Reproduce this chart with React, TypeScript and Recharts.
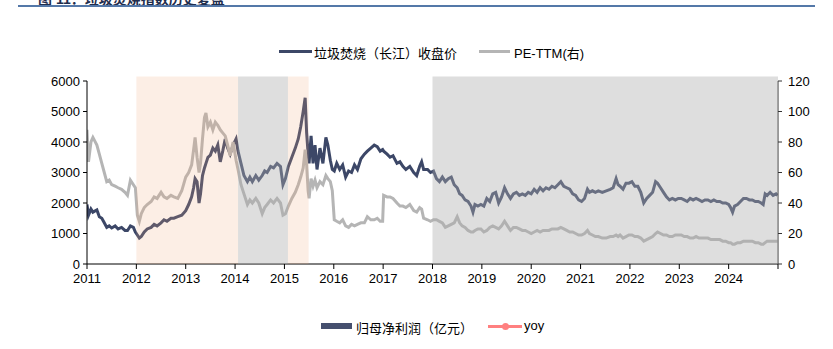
import React from 'react';
import { LineChart, Line, XAxis, YAxis, ReferenceArea } from 'recharts';

// decimal year of each sample
const dates = [
  2011.0, 2011.03, 2011.08, 2011.12, 2011.2, 2011.25, 2011.3, 2011.35, 2011.4, 2011.45,
  2011.5, 2011.57, 2011.63, 2011.7, 2011.77, 2011.82, 2011.88, 2011.94, 2011.98, 2012.02,
  2012.06, 2012.1, 2012.16, 2012.22, 2012.3, 2012.36, 2012.42, 2012.5, 2012.56, 2012.62,
  2012.7, 2012.76, 2012.84, 2012.92, 2013.0, 2013.06, 2013.12, 2013.16, 2013.19, 2013.23,
  2013.27, 2013.3, 2013.34, 2013.38, 2013.41, 2013.45, 2013.5, 2013.55, 2013.6, 2013.65,
  2013.7, 2013.75, 2013.8, 2013.85, 2013.9, 2013.96, 2014.02, 2014.06, 2014.12, 2014.18,
  2014.25, 2014.3, 2014.35, 2014.42, 2014.48, 2014.55, 2014.6, 2014.65, 2014.72, 2014.78,
  2014.85, 2014.92, 2014.97, 2015.02, 2015.08, 2015.15, 2015.22, 2015.28, 2015.33, 2015.38,
  2015.42, 2015.45, 2015.48, 2015.5, 2015.54, 2015.58, 2015.62, 2015.66, 2015.72, 2015.78,
  2015.84, 2015.88, 2015.93, 2015.97, 2016.01, 2016.06, 2016.12, 2016.18, 2016.24, 2016.3,
  2016.36, 2016.42, 2016.48, 2016.55, 2016.62, 2016.68, 2016.75, 2016.82, 2016.88, 2016.94,
  2016.99, 2017.01, 2017.08, 2017.14, 2017.2, 2017.28, 2017.34, 2017.4, 2017.46, 2017.54,
  2017.62, 2017.68, 2017.74, 2017.78, 2017.82, 2017.9, 2017.96, 2018.02, 2018.08, 2018.14,
  2018.2, 2018.26, 2018.32, 2018.38, 2018.44, 2018.5, 2018.55, 2018.6, 2018.66, 2018.72,
  2018.78, 2018.82, 2018.86, 2018.92, 2018.98, 2019.04, 2019.1, 2019.16, 2019.22, 2019.28,
  2019.34, 2019.4, 2019.46, 2019.52, 2019.58, 2019.64, 2019.7, 2019.76, 2019.82, 2019.88,
  2019.94, 2020.0, 2020.06, 2020.12, 2020.18, 2020.24, 2020.3, 2020.36, 2020.42, 2020.48,
  2020.54, 2020.6, 2020.66, 2020.72, 2020.78, 2020.84, 2020.9, 2020.96, 2021.02, 2021.08,
  2021.14, 2021.18, 2021.24, 2021.3, 2021.36, 2021.44, 2021.52, 2021.6, 2021.66, 2021.72,
  2021.76, 2021.8, 2021.86, 2021.92, 2021.98, 2022.04, 2022.1, 2022.16, 2022.22, 2022.28,
  2022.34, 2022.4, 2022.46, 2022.52, 2022.56, 2022.62, 2022.68, 2022.74, 2022.8, 2022.86,
  2022.92, 2022.98, 2023.04, 2023.1, 2023.16, 2023.22, 2023.28, 2023.34, 2023.4, 2023.46,
  2023.52, 2023.58, 2023.64, 2023.7, 2023.76, 2023.82, 2023.88, 2023.94, 2024.0, 2024.04,
  2024.08, 2024.12, 2024.18, 2024.24, 2024.3, 2024.36, 2024.42, 2024.48, 2024.54, 2024.6,
  2024.66, 2024.7, 2024.74, 2024.78, 2024.84, 2024.9, 2024.96, 2024.99,
];

// 垃圾焚烧（长江）收盘价
const closePrice = [
  1950, 1600, 1800, 1700, 1770, 1550, 1500, 1350, 1200, 1250,
  1180, 1250, 1150, 1200, 1100, 1100, 1250, 1200, 1050, 950,
  850, 900, 1050, 1150, 1200, 1300, 1250, 1350, 1450, 1400,
  1500, 1500, 1550, 1600, 1750, 1950, 2200, 2500, 2800, 2700,
  2000, 2300, 2900, 3150, 3300, 3500, 3570, 3800, 3700, 3900,
  3350, 3700, 4100, 3800, 3600, 3900, 4100, 3700, 3300, 2900,
  2700, 2850, 2700, 2900, 2750, 2900, 3050, 3000, 3200, 3150,
  3300, 3200, 2600, 2800, 3200, 3500, 3800, 4100, 4500, 5000,
  5450, 4300, 3600, 3300, 4200, 3300, 3900, 3100, 3800, 3300,
  4150, 3900, 3400, 3100, 3050, 3300, 3100, 3250, 2850, 3050,
  3000, 3250, 3100, 3450, 3600, 3700, 3800, 3900, 3850, 3700,
  3750, 3700, 3600, 3500, 3550, 3300, 3350, 3200, 3100, 3200,
  3000, 2900, 3200, 3350, 3100, 3100, 3000, 3050, 2800, 2700,
  2850, 2700, 2800, 2850, 2600, 2500, 2300, 2250, 2100, 2050,
  1900, 1700, 1950, 1900, 1950, 1900, 2150, 2050, 2300, 2350,
  2000, 2200, 2500, 2300, 2150, 2300, 2350, 2250, 2300, 2250,
  2350, 2300, 2450, 2350, 2500, 2400, 2500, 2450, 2550, 2500,
  2600, 2700, 2550, 2500, 2450, 2300, 2250, 2100, 2050, 2150,
  2450, 2350, 2400, 2350, 2400, 2350, 2400, 2450, 2500, 2800,
  2600, 2550, 2450, 2650, 2650, 2700, 2550, 2550, 2350, 2000,
  2150, 2250, 2350, 2700, 2650, 2500, 2350, 2200, 2100, 2150,
  2100, 2150, 2150, 2100, 2050, 2150, 2100, 2150, 2100, 2050,
  2100, 2100, 2050, 2100, 2050, 2050, 2000, 2000, 1950, 1850,
  1700, 1900, 1950, 2050, 2150, 2150, 2100, 2100, 2050, 2050,
  2000, 1950, 2300, 2250, 2350, 2250, 2300, 2250,
];

// PE-TTM(右)
const peTtm = [
  88, 67, 80, 83, 78, 72, 66, 60, 54, 55,
  52, 51, 50, 49, 47, 45, 55, 52, 50, 32,
  28, 33, 37, 39, 41, 44, 43, 47, 44, 43,
  45, 44, 43, 48, 57, 60, 65, 75, 83, 70,
  60, 66, 82, 96, 99, 90, 93, 88, 93, 91,
  88, 86, 84, 78, 71, 80, 68, 62, 52, 46,
  39, 42, 40, 43, 40, 33, 37, 39, 42, 40,
  43, 40, 32, 33, 38, 43, 47, 52, 57, 63,
  75, 65, 48, 43, 56, 51, 55, 50, 54, 52,
  58, 56, 54, 48, 29, 28, 27, 29, 25, 24,
  26, 25, 26, 27, 27, 31, 29, 29, 30, 28,
  28, 45, 44, 44, 43, 40, 38, 38, 37, 39,
  35, 34, 37, 36, 30, 29, 28, 29, 29, 28,
  27, 24, 25, 26, 27, 31, 27, 25, 24, 22,
  21, 21, 22, 23, 23, 21, 22, 24, 25, 24,
  23, 25, 28, 25, 22, 24, 24, 23, 22, 22,
  21, 20, 21, 22, 21, 22, 22, 22, 23, 23,
  23, 24, 23, 22, 21, 21, 20, 19, 19, 20,
  22, 20, 19, 18, 18, 17, 17, 18, 18, 19,
  18, 19, 17, 18, 19, 19, 18, 18, 17, 15,
  16, 17, 18, 20, 21, 20, 19, 19, 18, 18,
  19, 19, 19, 18, 18, 17, 17, 18, 17, 17,
  17, 17, 16, 16, 16, 16, 15, 15, 14, 14,
  13, 13, 14, 14, 15, 15, 15, 15, 14, 14,
  13, 13, 14, 15, 15, 15, 15, 15,
];

const yearTicks = [2011, 2012, 2013, 2014, 2015, 2016, 2017, 2018, 2019, 2020, 2021, 2022, 2023, 2024, 2025];
const priceTicks = [0, 1000, 2000, 3000, 4000, 5000, 6000];
const peTicks = [0, 20, 40, 60, 80, 100, 120];

// shaded phases: rally (peach) and consolidation (gray)
const phaseStart = [2012.0, 2014.06, 2015.07, 2018.0];
const phaseEnd = [2014.06, 2015.07, 2015.49, 2025.0];
const phaseKind = ['up', 'flat', 'up', 'flat'];

const data = dates.map((t, i) => ({ t, price: closePrice[i], pe: peTtm[i] }));

const FONT = "'Liberation Sans', Arial, 'Noto Sans CJK SC', sans-serif";
const NAVY = '#3c4767';
const GRAY = '#b5b5b5';
const W = 833;
const H = 300;

export default function App() {
  const tickStyle = { fill: '#000', fontSize: 13, fontFamily: FONT };
  return (
    <div
      style={{
        position: 'absolute',
        left: 0,
        top: 0,
        width: 833,
        height: 349,
        background: '#fff',
        overflow: 'hidden',
        fontFamily: FONT,
      }}
    >
      <div
        style={{
          position: 'absolute',
          left: 38,
          top: -12,
          fontSize: 14,
          fontWeight: 'bold',
          color: '#1f2d4d',
          whiteSpace: 'nowrap',
        }}
      >
        图 11：垃圾焚烧指数历史复盘
      </div>
      <div style={{ position: 'absolute', left: 18, top: 5, width: 797, height: 2, background: '#5478a8' }} />

      {/* top legend */}
      <div style={{ position: 'absolute', left: 279, top: 43, height: 16, fontSize: 13, color: '#000', whiteSpace: 'nowrap' }}>
        <span style={{ position: 'absolute', left: 0, top: 7, width: 33, height: 3, background: NAVY }} />
        <span style={{ position: 'absolute', left: 35, top: 0 }}>垃圾焚烧（长江）收盘价</span>
        <span style={{ position: 'absolute', left: 200, top: 7, width: 31, height: 3, background: GRAY }} />
        <span style={{ position: 'absolute', left: 235, top: 0 }}>PE-TTM(右)</span>
      </div>

      <div style={{ position: 'absolute', left: 0, top: 0 }}>
        <LineChart width={W} height={H} data={data} margin={{ top: 81, right: 5, bottom: 6, left: 37 }}>
          <XAxis
            dataKey="t"
            type="number"
            domain={[2011, 2025]}
            ticks={yearTicks}
            tickFormatter={(v: number) => (v === 2025 ? '' : String(v))}
            tick={tickStyle}
            tickSize={5}
            tickMargin={5}
            height={30}
            stroke="#000"
            allowDataOverflow
          />
          <YAxis
            yAxisId="left"
            domain={[0, 6000]}
            ticks={priceTicks}
            tick={tickStyle}
            tickSize={4}
            tickMargin={3}
            width={50}
            stroke="#000"
            allowDataOverflow
          />
          <YAxis
            yAxisId="right"
            orientation="right"
            domain={[0, 120]}
            ticks={peTicks}
            tick={tickStyle}
            tickSize={4}
            tickMargin={6}
            width={50}
            stroke="#333"
            allowDataOverflow
          />
          <Line
            yAxisId="left"
            dataKey="price"
            type="linear"
            stroke={NAVY}
            strokeWidth={3}
            dot={false}
            isAnimationActive={false}
          />
          <Line
            yAxisId="right"
            dataKey="pe"
            type="linear"
            stroke={GRAY}
            strokeWidth={3}
            dot={false}
            isAnimationActive={false}
          />
        </LineChart>
      </div>

      {/* translucent phase shading laid over the lines, same plot box and scales */}
      <div style={{ position: 'absolute', left: 0, top: 0, pointerEvents: 'none' }}>
        <LineChart width={W} height={H} data={data} margin={{ top: 81, right: 55, bottom: 36, left: 87 }}>
          <XAxis dataKey="t" type="number" domain={[2011, 2025]} hide allowDataOverflow />
          <YAxis yAxisId="left" domain={[0, 6000]} hide allowDataOverflow />
          {phaseStart.map((x1, i) => (
            <ReferenceArea
              key={i}
              yAxisId="left"
              x1={x1}
              x2={phaseEnd[i]}
              y1={0}
              y2={6150}
              ifOverflow="visible"
              fill={phaseKind[i] === 'up' ? 'rgb(240,170,125)' : 'rgb(172,172,172)'}
              fillOpacity={phaseKind[i] === 'up' ? 0.2 : 0.4}
              stroke="none"
            />
          ))}
        </LineChart>
      </div>

      {/* bottom legend */}
      <div style={{ position: 'absolute', left: 321, top: 318, height: 16, fontSize: 13, color: '#000', whiteSpace: 'nowrap' }}>
        <span style={{ position: 'absolute', left: 0, top: 5, width: 31, height: 6, background: '#454f6e' }} />
        <span style={{ position: 'absolute', left: 35, top: 0 }}>归母净利润（亿元）</span>
        <span style={{ position: 'absolute', left: 167, top: 7, width: 34, height: 3, background: '#ff8080' }} />
        <span
          style={{
            position: 'absolute',
            left: 181,
            top: 5,
            width: 7,
            height: 7,
            borderRadius: '50%',
            background: '#ff8080',
          }}
        />
        <span style={{ position: 'absolute', left: 203, top: 0 }}>yoy</span>
      </div>
    </div>
  );
}
